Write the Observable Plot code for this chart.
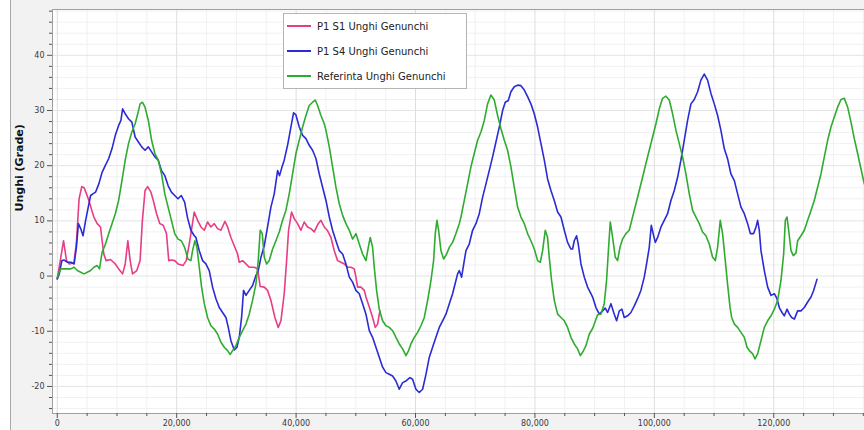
<!DOCTYPE html>
<html>
<head>
<meta charset="utf-8">
<script src="https://cdn.jsdelivr.net/npm/d3@7"></script>
<script src="https://cdn.jsdelivr.net/npm/@observablehq/plot@0.6"></script>
<style>
  html, body { margin: 0; padding: 0; background: #ffffff; }
  #wrap { position: relative; width: 864px; height: 430px; overflow: hidden; background: #f2f2f2; }
  #edge { position: absolute; left: 10px; top: 0; width: 1px; height: 430px; background: #a8a8a8; }
  #leftpad { position: absolute; left: 0; top: 0; width: 10px; height: 430px; background: #ffffff; }
  #chart { position: absolute; left: 0; top: 0; }
  #legend { position: absolute; left: 283px; top: 13px; width: 182px; height: 74px; background: #ffffff;
            border: 1px solid #b4b4b4; font-family: "DejaVu Sans", sans-serif; font-size: 10px; color: #222; }
  .row { position: absolute; left: 3px; height: 14px; display: flex; align-items: center; }
  .sw { width: 24px; height: 2px; margin-right: 6px; }
</style>
</head>
<body>
<div id="wrap">
  <div id="leftpad"></div>
  <div id="edge"></div>
  <div id="chart"></div>
  <div id="legend"></div>
</div>
<script>
// ---- Series names and colours ----
const seriesNames = ["P1 S1 Unghi Genunchi", "P1 S4 Unghi Genunchi", "Referinta Unghi Genunchi"];
const seriesColors = ["#e63d84", "#2b2bd4", "#2fac2f"];

// ---- P1 S1 (pink) ----
const pinkX = [0,1050,1550,2000,2800,3200,3650,4100,4500,4750,5300,5750,6130,6690,7240,7510,7790,8180,8900,9720,10280,10940,11380,11820,12210,12600,13320,13870,14250,14700,15140,15690,16080,16630,17180,17740,18290,18670,19120,19670,20220,21050,21600,22150,22940,23500,24060,24620,25170,25730,26290,26850,27410,28080,28520,29080,29640,30200,30480,31040,31600,32150,32990,33550,33990,34670,35220,35780,36450,37010,37460,38010,38410,38740,39240,39690,40250,40810,41360,41920,42480,43040,43710,44160,44720,45280,45840,46390,46950,47510,48070,48630,49180,49740,50020,50300,50860,51420,51700,52260,52810,53260,53650,54040];
const pinkY = [-0.5,6.4,2.8,2.2,2.4,6,14,16.2,16.0,15.3,13.7,12,10.7,9.5,8.9,6.4,4.0,2.8,3.0,2.2,1.3,0.4,2.2,6.4,2.8,0.4,1.0,2.8,10,15.5,16.2,15.2,13.7,11.3,9.5,9.2,7.7,2.8,2.9,2.8,2.2,1.9,2.8,6.1,11.6,10.1,8.9,8.3,9.8,8.9,9.5,8.6,8.3,9.9,8.9,7.0,5.5,4.0,2.5,2.8,2.2,1.6,1.6,1.3,-1.9,-2.0,-2.6,-4.4,-7.5,-9.3,-8.1,-3.2,2.8,8.3,11.6,10.4,9.5,8.3,9.8,8.9,8.6,8.0,9.5,10.1,8.9,8.2,7.0,4.6,2.8,2.5,2.2,1.6,1.6,1.3,-0.2,-2.0,-2.0,-2.6,-3.8,-5.6,-7.5,-9.3,-8.7,-6.3];

// ---- P1 S4 (blue) ----
const blueX = [0,330,770,1160,1710,2270,2820,3200,3540,3920,4310,4750,5190,5580,5970,6410,6960,7510,8070,8620,9170,9720,10280,10660,10940,11380,11930,12490,13040,13590,14140,14700,15250,15800,16350,16910,17460,18010,18560,19120,19670,20220,20770,21330,21825,22380,22940,23220,23780,24340,24890,25450,26010,26570,27130,27690,28250,28640,29080,29640,30090,30480,30870,31200,31600,32150,32710,33270,33660,34110,34670,35220,35780,36340,36900,37230,37620,38010,38570,39130,39580,39970,40530,41090,41650,42200,42760,43320,43880,44440,45000,45560,46110,46670,47230,47790,48350,48910,49460,50020,50580,51140,51700,52260,52810,53370,53930,54490,55050,55610,56160,56720,57280,57840,58400,59070,59510,60070,60630,61190,61750,62310,62860,63420,63980,64540,65100,65660,66210,66770,67050,67330,67720,68170,68450,69000,69560,70120,70680,71240,71800,72350,72910,73470,74030,74590,75030,75540,75980,76540,77100,77660,78220,78770,79330,79890,80450,81010,81570,82120,82680,83240,83800,84360,84920,85470,86030,86310,86590,86980,87260,87710,88270,88820,89380,89660,90220,90780,91330,91780,92170,92730,93290,93680,94130,94570,94960,95520,96080,96640,97200,97750,98310,98700,99150,99490,99820,100160,100550,101110,101660,102220,102780,103340,103900,104450,105010,105570,106130,106690,107250,107800,108360,108920,109480,110040,110600,111150,111710,112280,112830,113400,113950,114510,115070,115630,116080,116630,117030,117300,117580,117860,118420,118980,119540,120100,120540,120930,121380,121770,122220,122610,123000,123450,124000,124560,125120,125680,126240,126680,127240];
const blueY = [-0.5,0.4,2.8,2.9,2.5,2.5,2.2,5.2,9.5,8.6,7.3,10.1,12.5,14.6,14.9,15.2,16.7,18.8,20.1,21.3,23.1,25.5,27.3,28.2,30.3,29.4,28.5,27.9,25.2,24.3,23.4,22.8,23.4,22.5,21.6,21.0,19.1,18.2,16.4,15.2,14.6,14.0,14.6,13.4,10.5,8.3,7.3,7.0,4.6,2.8,2.2,1.0,-2.0,-4.1,-5.7,-6.6,-7.5,-9.3,-11.7,-13.4,-12.9,-11.1,-7.5,-2.6,-3.5,-2.6,-1.7,0.1,1.0,3.4,5.5,8.9,12.5,14.9,19.1,18.2,19.7,21.0,23.7,27.0,29.6,29.2,27.0,25.5,24.9,23.7,22.8,21.3,18.5,16.1,13.7,10.7,8.3,6.4,4.6,4.0,2.2,-0.2,-1.1,-2.6,-3.2,-5.0,-6.9,-9.9,-11.1,-12.9,-14.7,-16.5,-17.5,-17.8,-18.1,-19.0,-20.5,-19.3,-19.0,-18.4,-18.7,-20.5,-21.1,-20.5,-17.8,-14.7,-12.9,-11.1,-9.3,-8.1,-6.9,-5.0,-3.2,-0.8,0.4,1.0,-0.2,2.8,4.6,5.8,8.3,9.5,11.3,14.3,16.7,19.1,21.6,24.3,27.0,30.0,31.5,31.8,33.4,34.3,34.6,34.5,33.7,32.5,31.2,29.4,27.0,24.0,21.0,17.6,15.5,13.7,11.6,10.7,8.3,6.1,4.9,4.9,6.4,7.3,5.8,2.2,-0.2,-2.0,-3.2,-3.8,-5.7,-6.9,-6.3,-5.8,-6.6,-5.0,-6.9,-8.1,-6.3,-6.0,-7.5,-7.2,-6.6,-5.4,-4.1,-2.6,-0.2,2.2,5.2,9.2,7.6,6.1,7.0,8.9,10.1,11.3,13.7,15.5,17.9,21.0,24.6,28.2,31.2,32.0,33.4,35.5,36.6,35.5,33.1,31.2,29.1,26.4,23.1,21.2,18.5,17.3,14.9,12.5,11.3,9.5,7.7,7.7,8.9,10.1,8.3,4.6,1.0,-2.0,-3.5,-3.2,-4.1,-5.7,-6.6,-7.2,-6.0,-6.9,-7.5,-7.8,-6.3,-6.3,-5.7,-4.7,-3.8,-2.6,-0.6];

// ---- Referinta (green) ----
const greenX = [0,220,610,1160,1710,2270,2820,3370,3920,4480,5030,5580,6130,6690,7070,7510,8070,8620,9170,9720,10280,10830,11380,11930,12490,13040,13480,13870,14250,14700,15250,15800,16350,16910,17460,18010,18560,19120,19670,20220,20770,21330,21880,22380,22660,23050,23390,23780,24170,24620,25170,25730,26290,26850,27410,27970,28520,28970,29360,29920,30480,31040,31600,32150,32710,33270,33660,33990,34330,34670,35060,35500,36060,36620,37180,37740,38290,38850,39410,39970,40530,41090,41650,42200,42760,43210,43600,44160,44720,45000,45560,46110,46670,47230,47790,48350,48910,49460,50020,50580,51140,51700,52090,52420,52810,53090,53480,53930,54490,55050,55610,56160,56720,57280,57840,58400,58840,59230,59790,60350,60910,61470,62030,62590,63030,63310,63590,63870,64260,64710,65210,65660,66210,66770,67330,67610,68170,68720,69280,69840,70400,70960,71520,72070,72630,73190,73750,74310,74870,75420,75980,76540,77100,77660,78220,78770,79330,79890,80450,80900,81290,81730,82120,82400,82790,83240,83800,84360,84920,85470,86030,86590,87150,87600,87990,88550,89110,89660,90500,91060,91610,92000,92340,92620,93010,93460,93850,94240,94680,95240,95800,96360,96920,97480,98030,98590,99150,99710,100270,100830,101380,101940,102500,103060,103620,104180,104730,105290,105850,106410,106970,107530,108080,108640,109200,109760,110210,110600,111040,111430,111880,112270,112660,112950,113400,113950,114510,115070,115520,115910,116470,116860,117300,117860,118420,118980,119540,120100,120650,121210,121660,121940,122220,122500,122890,123280,123730,124000,124560,125120,125680,126240,126790,127350,127910,128470,129030,129590,130140,130700,131260,131820,132380,132940,133490,134050,134610,135170];
const greenY = [-0.3,0.5,1.3,1.3,1.3,1.3,1.6,1.0,0.7,0.4,0.7,1.0,1.6,1.9,1.3,4.3,5.8,7.7,9.5,11.3,13.7,17.3,21.0,24.0,26.1,27.6,29.4,31.2,31.5,30.6,28.2,24.6,22.2,21.0,18.5,14.9,12.5,10.1,7.7,6.7,6.4,5.2,3.1,2.8,4.6,6.4,5.2,1.6,-2.0,-5.0,-7.5,-9.0,-9.6,-10.5,-12.0,-12.9,-13.5,-14.2,-13.5,-12.6,-11.1,-9.9,-8.7,-6.9,-4.4,-1.4,2.8,8.3,7.7,3.4,2.2,2.8,4.9,6.4,8.0,10.1,11.9,14.9,18.5,22.2,24.6,27.0,29.1,30.9,31.5,31.9,30.9,29.1,27.6,26.4,23.4,19.8,16.1,13.1,11.0,9.5,8.3,6.7,7.7,5.8,4.0,2.8,5.2,7.0,5.2,1.6,-2.6,-6.0,-8.1,-9.0,-9.3,-9.9,-11.1,-12.3,-13.2,-14.4,-13.5,-12.3,-11.1,-10.2,-9.0,-7.5,-4.4,-0.8,2.8,7.7,10.1,8.3,4.6,3.1,4.0,5.2,6.1,7.7,9.5,10.7,13.7,16.7,19.8,22.2,24.6,26.1,28.2,31.2,32.8,31.9,29.1,26.7,24.6,22.8,19.8,16.1,12.5,10.7,9.5,7.7,6.4,4.9,2.8,2.5,4.6,8.3,7.0,3.4,-0.8,-4.4,-6.9,-7.5,-8.1,-9.3,-11.1,-12.3,-13.2,-14.4,-13.8,-12.6,-10.5,-9.5,-7.0,-6.9,-5.0,-0.8,5.2,9.8,7.0,3.4,2.8,5.2,6.7,7.7,8.3,10.7,13.1,15.5,17.9,20.4,22.8,25.2,27.6,30.3,32.2,32.6,31.9,29.4,26.4,24.0,21.6,18.5,14.9,11.9,10.7,9.5,8.0,7.3,5.8,3.4,2.8,5.2,10.1,7.7,2.8,-1.5,-5.5,-7.5,-8.7,-9.3,-10.2,-11.1,-12.9,-13.5,-14.1,-15.0,-14.1,-11.7,-9.3,-8.1,-7.2,-6.0,-4.4,-0.8,4.0,10.1,10.7,8.3,4.6,3.7,4.2,6.4,7.3,8.3,10.1,11.9,13.7,16.1,18.5,21.6,24.6,27.0,28.8,30.6,32.0,32.2,30.6,27.9,24.9,22.2,19.4,16.7];

// ---- Axes ----
const xMajorTicks = [0, 20000, 40000, 60000, 80000, 100000, 120000];
const xMinorTicks = [5000,10000,15000,25000,30000,35000,45000,50000,55000,65000,70000,75000,85000,90000,95000,105000,110000,115000,125000,130000,135000];
const yMajorTicks = [-20, -10, 0, 10, 20, 30, 40];
const yMinorTicks = [-24,-22,-18,-16,-14,-12,-8,-6,-4,-2,2,4,6,8,12,14,16,18,22,24,26,28,32,34,36,38,42,44,46,48];
const xDomain = [-800, 135200];
const yDomain = [-24.9, 48.3];
const yTitle = "Unghi (Grade)";

const toRows = (xs, ys) => xs.map((x, i) => ({x, y: ys[i]}));
const seriesData = [toRows(pinkX, pinkY), toRows(blueX, blueY), toRows(greenX, greenY)];

const chart = Plot.plot({
  width: 864,
  height: 430,
  marginLeft: 52,
  marginRight: 0,
  marginTop: 9,
  marginBottom: 17,
  x: {domain: xDomain},
  y: {domain: yDomain},
  style: {fontFamily: "DejaVu Sans, sans-serif", fontSize: "8px", background: "transparent", color: "#3a3a3a", overflow: "visible"},
  marks: [
    Plot.frame({fill: "#ffffff"}),
    Plot.gridX(xMinorTicks, {stroke: "#f1f1f1", strokeOpacity: 1}),
    Plot.gridY(yMinorTicks, {stroke: "#f1f1f1", strokeOpacity: 1}),
    Plot.gridX(xMajorTicks, {stroke: "#dedede", strokeOpacity: 1}),
    Plot.gridY(yMajorTicks, {stroke: "#e4e4e4", strokeOpacity: 1}),
    ...seriesData.map((d, i) => Plot.line(d, {x: "x", y: "y", stroke: seriesColors[i], strokeWidth: 1.6, curve: "linear"})),
    Plot.frame({stroke: "#a0a0a0"}),
    Plot.axisY(yMajorTicks, {tickSize: 5, tickPadding: 3, tickFormat: d => String(d), label: null, stroke: "#555"}),
    Plot.axisY(yMinorTicks, {tickSize: 3, text: null, label: null, stroke: "#555"}),
    Plot.axisX(xMajorTicks, {tickSize: 5, tickPadding: 2, tickFormat: d3.format(","), label: null, stroke: "#555"}),
    Plot.axisX(xMinorTicks, {tickSize: 3, text: null, label: null, stroke: "#555"}),
    Plot.text([yTitle], {frameAnchor: "left", dx: -33, rotate: -90, fontWeight: "bold", fontSize: 11, fill: "#111"})
  ]
});
document.getElementById("chart").appendChild(chart);

const legend = document.getElementById("legend");
seriesNames.forEach((name, i) => {
  const row = document.createElement("div");
  row.className = "row";
  row.style.top = (5 + i * 25) + "px";
  const sw = document.createElement("div");
  sw.className = "sw";
  sw.style.background = seriesColors[i];
  const t = document.createElement("span");
  t.textContent = name;
  row.appendChild(sw);
  row.appendChild(t);
  legend.appendChild(row);
});
</script>
</body>
</html>
